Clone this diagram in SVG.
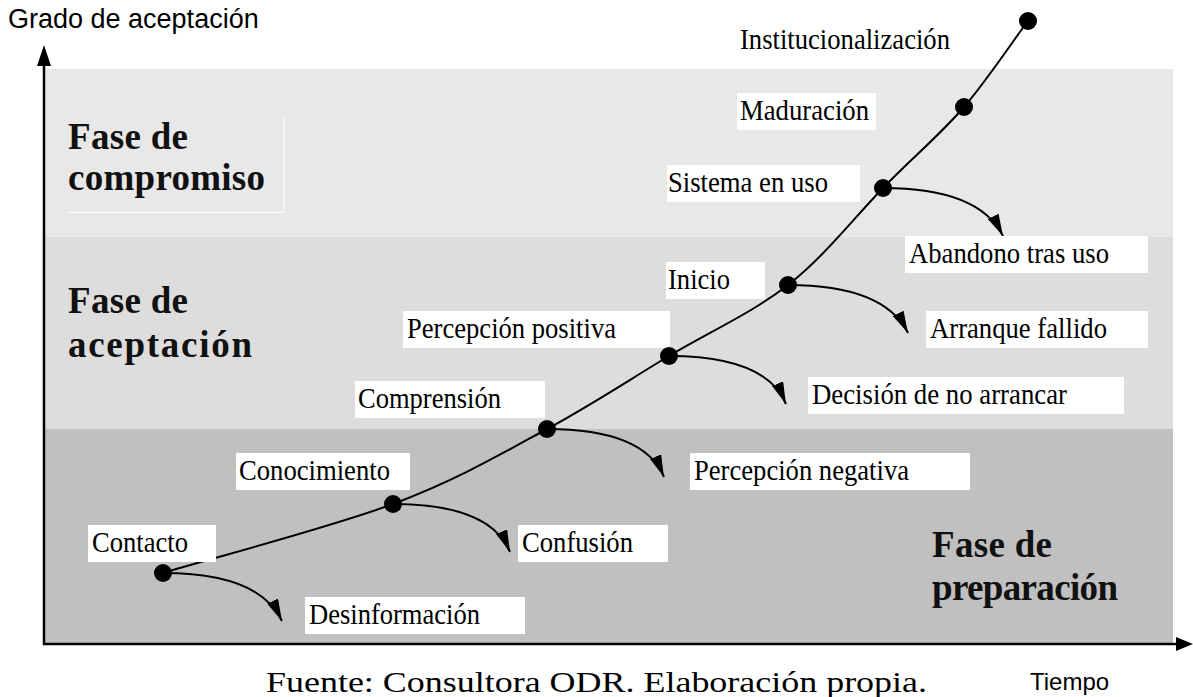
<svg xmlns="http://www.w3.org/2000/svg" width="1193" height="697" viewBox="0 0 1193 697">
<defs>
<style>
.lbl{font-family:"Liberation Serif","Times New Roman",serif;font-size:30px;fill:#000}
.box{fill:#fff}
.phase{font-family:"Liberation Serif","Times New Roman",serif;font-size:37px;font-weight:bold;fill:#111}
.axis{font-family:"Liberation Sans",Arial,sans-serif;font-size:24px;fill:#000}
.dot{fill:#000}
.branch{fill:none;stroke:#000;stroke-width:2}
</style>
<marker id="ah" markerUnits="userSpaceOnUse" viewBox="0 0 22 12" markerWidth="22" markerHeight="12" refX="22" refY="6" orient="auto">
<path d="M0,0 L22,6 L0,12 z" fill="#000"/>
</marker>
</defs>
<rect width="1193" height="697" fill="#fff"/>
<g id="bands">
<rect x="45" y="69" width="1128" height="168" fill="#e8e8e8"/>
<rect x="45" y="237" width="1128" height="192" fill="#dddddd"/>
<rect x="45" y="429" width="1128" height="215" fill="#c0c0c0"/>
<path d="M284,117 V213 M68,212.5 H284" stroke="#fff" stroke-width="1" fill="none"/>
</g>
<g id="axes">
<line x1="44" y1="645" x2="44" y2="62" stroke="#000" stroke-width="2.5"/>
<path d="M37,66 L51,66 L44,45 z" fill="#000"/>
<line x1="43" y1="644" x2="1178" y2="644" stroke="#000" stroke-width="2.5"/>
<path d="M1176,637 L1176,651 L1193,644 z" fill="#000"/>
<text class="axis" x="8" y="28" style="font-size:27px">Grado de aceptación</text>
<text class="axis" x="1030" y="690">Tiempo</text>
</g>
<g id="phases">
<text class="phase" x="68" y="149" textLength="120" lengthAdjust="spacing">Fase de</text>
<text class="phase" x="68" y="190" textLength="197" lengthAdjust="spacing">compromiso</text>
<text class="phase" x="68" y="313" textLength="120" lengthAdjust="spacing">Fase de</text>
<text class="phase" x="68" y="357" textLength="184" lengthAdjust="spacing">aceptación</text>
<text class="phase" x="932" y="557" textLength="120" lengthAdjust="spacing">Fase de</text>
<text class="phase" x="932" y="600" textLength="186" lengthAdjust="spacing">preparación</text>
</g>
<g id="connectors">
<path class="branch" d="M163,573 C201,561 329,528 393,504 C457,480 501,454 547,429 C593,404 629,380 669,356 C709,332 752,313 788,285 C824,257 854,218 883,188 C912,158 940,135 964,107 C988,79 1017,35 1028,21"/>
<path class="branch" marker-end="url(#ah)" d="M163,573 c55,0 102,12 119,48"/>
<path class="branch" marker-end="url(#ah)" d="M393,504 c55,0 102,12 117,48"/>
<path class="branch" marker-end="url(#ah)" d="M547,429 c55,0 102,12 117,48"/>
<path class="branch" marker-end="url(#ah)" d="M669,356 c55,0 102,12 117,48"/>
<path class="branch" marker-end="url(#ah)" d="M788,285 c55,0 102,12 120,48"/>
<path class="branch" marker-end="url(#ah)" d="M883,188 c55,0 102,12 120,48"/>
</g>
<g id="n-contacto"><rect class="box" x="88" y="525" width="128" height="37"/><text class="lbl" x="92" y="552" textLength="96" lengthAdjust="spacingAndGlyphs">Contacto</text><circle class="dot" cx="163" cy="573" r="9"/></g>
<g id="n-desinformacion"><rect class="box" x="305" y="597" width="220" height="37"/><text class="lbl" x="309" y="624" textLength="171" lengthAdjust="spacingAndGlyphs">Desinformación</text></g>
<g id="n-conocimiento"><rect class="box" x="236" y="453" width="174" height="37"/><text class="lbl" x="239" y="480" textLength="151" lengthAdjust="spacingAndGlyphs">Conocimiento</text><circle class="dot" cx="393" cy="504" r="9"/></g>
<g id="n-confusion"><rect class="box" x="518" y="525" width="150" height="37"/><text class="lbl" x="522" y="552" textLength="111" lengthAdjust="spacingAndGlyphs">Confusión</text></g>
<g id="n-comprension"><rect class="box" x="355" y="381" width="190" height="37"/><text class="lbl" x="358" y="408" textLength="143" lengthAdjust="spacingAndGlyphs">Comprensión</text><circle class="dot" cx="547" cy="429" r="9"/></g>
<g id="n-percepcion-negativa"><rect class="box" x="690" y="453" width="280" height="37"/><text class="lbl" x="694" y="480" textLength="215" lengthAdjust="spacingAndGlyphs">Percepción negativa</text></g>
<g id="n-percepcion-positiva"><rect class="box" x="403" y="311" width="267" height="37"/><text class="lbl" x="407" y="338" textLength="209" lengthAdjust="spacingAndGlyphs">Percepción positiva</text><circle class="dot" cx="669" cy="356" r="9"/></g>
<g id="n-decision"><rect class="box" x="808" y="377" width="316" height="37"/><text class="lbl" x="812" y="404" textLength="255" lengthAdjust="spacingAndGlyphs">Decisión de no arrancar</text></g>
<g id="n-inicio"><rect class="box" x="666" y="262" width="99" height="37"/><text class="lbl" x="668" y="289" textLength="62" lengthAdjust="spacingAndGlyphs">Inicio</text><circle class="dot" cx="788" cy="285" r="9"/></g>
<g id="n-arranque"><rect class="box" x="926" y="311" width="222" height="37"/><text class="lbl" x="930" y="338" textLength="177" lengthAdjust="spacingAndGlyphs">Arranque fallido</text></g>
<g id="n-sistema"><rect class="box" x="667" y="165" width="193" height="37"/><text class="lbl" x="668" y="192" textLength="160" lengthAdjust="spacingAndGlyphs">Sistema en uso</text><circle class="dot" cx="883" cy="188" r="9"/></g>
<g id="n-abandono"><rect class="box" x="905" y="236" width="243" height="37"/><text class="lbl" x="909" y="263" textLength="200" lengthAdjust="spacingAndGlyphs">Abandono tras uso</text></g>
<g id="n-maduracion"><rect class="box" x="737" y="93" width="139" height="37"/><text class="lbl" x="740" y="120" textLength="129" lengthAdjust="spacingAndGlyphs">Maduración</text><circle class="dot" cx="964" cy="107" r="9"/></g>
<g id="n-institucionalizacion"><text class="lbl" x="740" y="49" textLength="210" lengthAdjust="spacingAndGlyphs">Institucionalización</text><circle class="dot" cx="1028" cy="21" r="9"/></g>
<text class="lbl" x="266" y="692" textLength="661" lengthAdjust="spacingAndGlyphs">Fuente: Consultora ODR. Elaboración propia.</text>
</svg>
